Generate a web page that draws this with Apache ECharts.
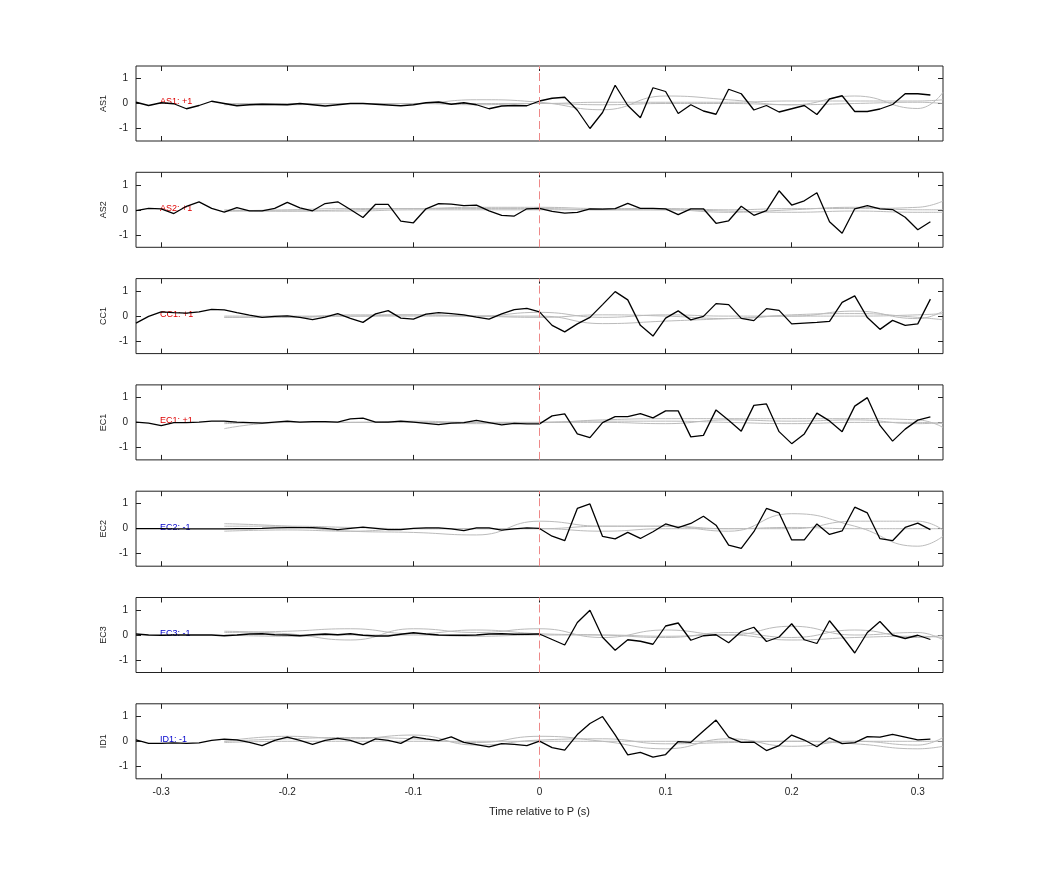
<!DOCTYPE html>
<html><head><meta charset="utf-8">
<script src="https://cdn.jsdelivr.net/npm/echarts@6/dist/echarts.min.js"></script>
<style>body{margin:0;background:#fff}#main{width:1042px;height:875px}</style>
</head><body><div id="main"></div>
<script>
// station names and annotation labels
var stations = ['AS1', 'AS2', 'CC1', 'EC1', 'EC2', 'EC3', 'ID1'];
var polarity = ['AS1: +1', 'AS2: +1', 'CC1: +1', 'EC1: +1', 'EC2: -1', 'EC3: -1', 'ID1: -1'];
var xTicks = [-0.3, -0.2, -0.1, 0, 0.1, 0.2, 0.3];
var yTicks = [-1, 0, 1];

// black trace: one sample every 0.01 s from -0.32 to 0.31
var blackStart = -0.32;
var as1 = [0.05,-0.08,0.03,-0.01,-0.21,-0.08,0.09,0,-0.09,-0.05,-0.03,-0.04,-0.05,0,-0.05,-0.1,-0.05,0,0,-0.03,-0.06,-0.09,-0.05,0.03,0.06,-0.03,0.03,-0.05,-0.21,-0.1,-0.08,-0.09,0.1,0.21,0.25,-0.27,-1.0,-0.36,0.73,-0.08,-0.57,0.63,0.48,-0.4,-0.05,-0.3,-0.43,0.57,0.39,-0.26,-0.08,-0.34,-0.21,-0.08,-0.44,0.18,0.31,-0.32,-0.32,-0.22,-0.04,0.39,0.39,0.34];
var as2 = [-0.03,0.06,0.04,-0.15,0.14,0.32,0.06,-0.09,0.09,-0.04,-0.04,0.06,0.3,0.08,-0.04,0.25,0.32,0.01,-0.31,0.22,0.22,-0.45,-0.52,0.04,0.25,0.23,0.17,0.19,-0.04,-0.22,-0.25,0.04,0.06,-0.06,-0.13,-0.1,0.04,0.03,0.05,0.26,0.06,0.06,0.04,-0.19,0.04,0.04,-0.54,-0.44,0.14,-0.22,-0.03,0.76,0.19,0.36,0.68,-0.48,-0.94,0.04,0.17,0.04,0.01,-0.3,-0.8,-0.48];
var cc1 = [-0.28,-0.01,0.17,0.14,0.12,0.17,0.27,0.25,0.14,0.04,-0.05,-0.01,0.01,-0.05,-0.14,-0.04,0.1,-0.09,-0.25,0.09,0.22,-0.08,-0.12,0.08,0.14,0.1,0.05,-0.04,-0.12,0.09,0.26,0.31,0.17,-0.37,-0.63,-0.31,-0.05,0.46,0.98,0.65,-0.37,-0.8,-0.08,0.21,-0.15,-0.01,0.5,0.46,-0.09,-0.18,0.3,0.23,-0.31,-0.28,-0.25,-0.21,0.55,0.81,-0.06,-0.53,-0.17,-0.37,-0.31,0.68];
var ec1 = [0.01,-0.03,-0.13,-0.01,-0.01,0.01,0.05,0.05,0.01,-0.01,-0.03,0.01,0.05,0.01,0.03,0.03,0.01,0.14,0.17,0.01,0.01,0.05,0.01,-0.04,-0.09,-0.03,-0.01,0.08,-0.01,-0.1,-0.04,-0.06,-0.06,0.26,0.34,-0.46,-0.61,-0.01,0.23,0.23,0.35,0.18,0.46,0.46,-0.58,-0.52,0.5,0.09,-0.35,0.68,0.74,-0.37,-0.85,-0.46,0.37,0.06,-0.37,0.65,0.99,-0.12,-0.75,-0.27,0.09,0.22];
var ec2 = [0,0,0,-0.01,-0.01,-0.01,-0.01,-0.01,0,0,0.01,0.03,0.04,0.04,0.04,0.01,-0.04,0.01,0.06,0.01,-0.04,-0.04,0.01,0.03,0.03,-0.01,-0.08,0.03,0.03,-0.06,-0.01,0.03,0.01,-0.3,-0.48,0.81,0.99,-0.31,-0.41,-0.15,-0.39,-0.12,0.19,0.04,0.21,0.5,0.14,-0.66,-0.79,-0.12,0.81,0.63,-0.45,-0.45,0.19,-0.23,-0.09,0.86,0.63,-0.4,-0.48,0.05,0.22,-0.04];
var ec3 = [0.04,0,-0.01,0,0,0,0,-0.03,0,0.04,0.05,0.01,0,-0.03,0.01,0.04,0.01,0.05,-0.01,-0.04,-0.04,0.03,0.09,0.04,0,-0.01,-0.01,0,0.04,0.05,0.03,0.03,0.04,-0.18,-0.4,0.5,0.99,-0.09,-0.61,-0.19,-0.25,-0.37,0.36,0.48,-0.21,-0.03,0.01,-0.31,0.14,0.31,-0.26,-0.08,0.45,-0.19,-0.34,0.57,-0.05,-0.72,0.1,0.54,0,-0.14,-0.01,-0.18];
var id1 = [0.06,-0.08,-0.08,-0.06,-0.08,-0.06,0.04,0.09,0.06,-0.04,-0.17,0.04,0.17,0.04,-0.12,0.04,0.12,0.04,-0.13,0.1,0.04,-0.08,0.18,0.1,0.03,0.18,-0.04,-0.13,-0.22,-0.09,-0.12,-0.17,0.01,-0.25,-0.35,0.27,0.71,0.99,0.26,-0.54,-0.44,-0.63,-0.53,-0.01,-0.04,0.41,0.85,0.17,-0.04,-0.03,-0.37,-0.17,0.25,0.05,-0.22,0.14,-0.09,-0.05,0.19,0.17,0.28,0.17,0.06,0.09];
var blackTraces = [as1, as2, cc1, ec1, ec2, ec3, id1];

// gray traces: samples at these times
var grayTimes = [-0.25,-0.2,-0.15,-0.1,-0.05,0,0.05,0.1,0.15,0.2,0.25,0.3,0.32];
var grayAS1 = [
  [-0.02,0,0,0,0.15,0.05,-0.25,0.3,0.15,-0.05,0.3,-0.2,0.45],
  [0,0,0,0,0,0,0.05,0.05,0.05,0.1,0.1,0.1,0.15],
  [-0.05,-0.05,0,0,-0.05,0,-0.05,0,0,-0.05,0,0.05,0]];
var grayAS2 = [
  [-0.05,0,0.05,0.05,0.1,0.1,0.05,0.05,0,0.05,0.05,0.1,0.35],
  [0,-0.05,0,0.05,0.05,0.05,0,0,-0.1,0,0.1,0,0],
  [-0.05,-0.05,-0.05,0,0,0,0,0,-0.05,-0.1,-0.05,-0.1,-0.1]];
var grayCC1 = [
  [-0.05,-0.05,0.05,0.05,0,0.15,-0.05,0.05,0,0,0.2,-0.1,0.2],
  [0,0,0,0.05,0,-0.05,0.05,0,-0.1,0.05,0.1,-0.05,-0.15],
  [-0.05,-0.05,0,0,0,0,-0.3,-0.2,-0.1,0,0,0.05,0.1]];
var grayEC1 = [
  [-0.25,0,0,0,0,0,0.1,0.15,0.15,0.15,0.15,0.1,-0.2],
  [0,0,0,0.05,0,0,0,-0.05,0.1,0.05,0.1,-0.05,0],
  [-0.05,0,0,0,-0.05,0,0.05,0.05,0,-0.05,0,0,-0.05]];
var grayEC2 = [
  [0.2,0.1,-0.1,-0.15,-0.25,0.3,0.1,0.1,-0.1,0.6,0.1,-0.7,-0.3],
  [0.1,0.1,0.05,0,0,0,0.1,0.1,0,0,0.3,0.3,-0.05],
  [-0.1,-0.05,-0.1,0,0,0,-0.1,0,0,0.05,0,0,0]];
var grayEC3 = [
  [0.15,0.05,-0.2,0.25,0.1,0.25,-0.1,0.2,0,0.35,0,0.1,-0.2],
  [0.1,0.15,0.25,0.05,0.2,0.05,0,-0.1,0.1,-0.1,0.2,-0.1,0],
  [0,-0.05,0,0,-0.05,0,0,-0.05,0,-0.2,-0.1,-0.05,-0.1]];
var grayID1 = [
  [0,0.1,0.15,0.1,-0.05,0.2,0,-0.3,0.1,-0.2,0,-0.15,0.15],
  [0,0.2,0.1,0.25,-0.15,0.05,0.1,-0.1,-0.05,0,-0.1,-0.3,-0.2],
  [-0.05,0,0,0,0,0,0,0,0,0,0,0,0]];
var grayTraces = [grayAS1, grayAS2, grayCC1, grayEC1, grayEC2, grayEC3, grayID1];

var chart = echarts.init(document.getElementById('main'));
var grids = [], xAxes = [], yAxes = [], series = [], graphics = [];
var font = 'Liberation Sans';
stations.forEach(function (name, i) {
  var top = 66 + 106.3 * i;
  var last = i === stations.length - 1;
  grids.push({left: 136, width: 807, top: top, height: 75, show: true,
    borderColor: '#222', borderWidth: 1, backgroundColor: '#fff'});
  [false, true].forEach(function (isTop) {
    xAxes.push({type: 'value', gridIndex: i, min: -0.32, max: 0.32,
      position: isTop ? 'top' : 'bottom',
      axisLine: {show: false, onZero: false}, splitLine: {show: false},
      axisTick: {inside: true, length: 5, lineStyle: {color: '#222'}, customValues: xTicks},
      axisLabel: {show: last && !isTop, customValues: xTicks, color: '#222', fontSize: 10, fontFamily: font, margin: 8,
        formatter: function (v) { return String(Math.round(v * 10) / 10); }},
      name: last && !isTop ? 'Time relative to P (s)' : '', nameLocation: 'middle', nameGap: 28,
      nameTextStyle: {color: '#222', fontSize: 11, fontFamily: font}});
  });
  [false, true].forEach(function (isRight) {
    yAxes.push({type: 'value', gridIndex: i, min: -1.5, max: 1.5,
      position: isRight ? 'right' : 'left',
      axisLine: {show: false, onZero: false}, splitLine: {show: false},
      axisTick: {inside: true, length: 5, lineStyle: {color: '#222'}, customValues: yTicks},
      axisLabel: {show: !isRight, customValues: yTicks, color: '#222', fontSize: 10, fontFamily: font, margin: 8},
      name: isRight ? '' : name, nameLocation: 'middle', nameGap: 26,
      nameTextStyle: {color: '#222', fontSize: 9, fontFamily: font}});
  });
  grayTraces[i].forEach(function (g) {
    series.push({type: 'line', xAxisIndex: 2 * i, yAxisIndex: 2 * i, smooth: true, symbol: 'none',
      lineStyle: {color: '#bbb', width: 1}, silent: true,
      data: grayTimes.map(function (t, k) { return [t, g[k]]; })});
  });
  series.push({type: 'line', xAxisIndex: 2 * i, yAxisIndex: 2 * i, symbol: 'none',
    lineStyle: {color: '#000', width: 1.3}, silent: true,
    data: blackTraces[i].map(function (v, k) { return [Math.round((blackStart + 0.01 * k) * 100) / 100, v]; }),
    markLine: {symbol: 'none', silent: true, label: {show: false},
      lineStyle: {color: '#e88', type: [8, 4], width: 1}, data: [{xAxis: 0}]}});
  graphics.push({type: 'text', left: 160, top: top + 37.5 - 6,
    style: {text: polarity[i], fill: i < 4 ? '#d00' : '#00c', fontSize: 9, fontFamily: font}});
});

chart.setOption({
  animation: false,
  grid: grids, xAxis: xAxes, yAxis: yAxes, series: series, graphic: graphics
});
</script>
</body></html>
